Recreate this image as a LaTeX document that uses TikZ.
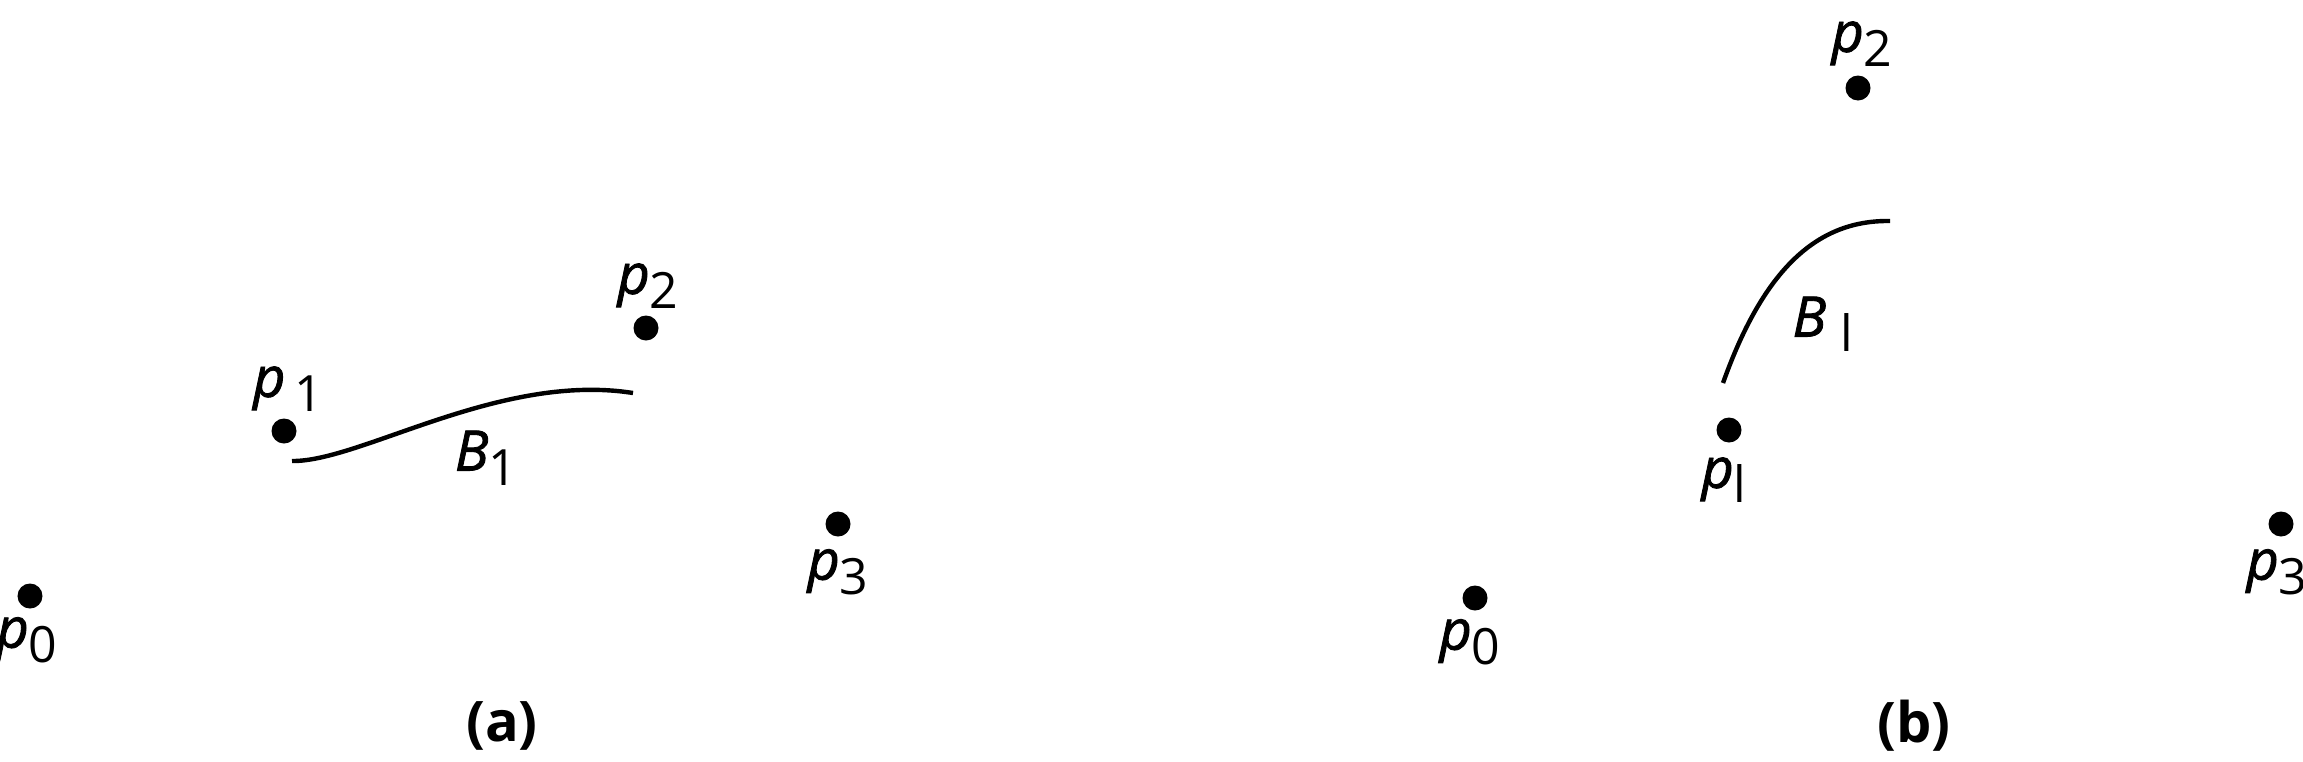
\documentclass[tikz,border=0pt]{standalone}
\usepackage{fontspec}
\setmainfont{Open Sans}
\newfontfamily\labfont[ItalicFeatures={FakeBold=1.5}]{Open Sans}
\newcommand{\lbl}[3][0pt]{{\itshape #2}\hspace{#1}\raisebox{-5pt}{\fontsize{17}{17}\selectfont #3}}
\tikzset{
  dot/.style={circle, fill=black, inner sep=0pt, minimum size=8.5pt},
  lab/.style={inner sep=0pt, font=\labfont\fontsize{19}{22}\selectfont},
  captext/.style={inner sep=0pt, font=\fontsize{19}{22}\selectfont\bfseries},
  bcurve/.style={line width=1.5pt, line cap=butt}
}
\begin{document}
\begin{tikzpicture}[x=0.34pt, y=-0.34pt]
\useasboundingbox (0,0) rectangle (2303,762);
% panel (a)
\node[dot] (a0) at (30,596) {};
\node[dot] (a1) at (284,431) {};
\node[dot] (a2) at (646,328) {};
\node[dot] (a3) at (838,524) {};
\node[lab] (la0) at (27,640) {\lbl{p}{0}};
\node[lab] (la1) at (288,389) {\lbl[3pt]{p}{1}};
\node[lab] (la2) at (648,286) {\lbl{p}{2}};
\node[lab] (la3) at (838,572) {\lbl{p}{3}};
\node[lab] (lB1) at (486,458) {\lbl{B}{1}};
\coordinate (as) at (292,461);
\coordinate (ae) at (633,393);
\draw[bcurve] (as) .. controls (360,462) and (500,372) .. (ae);
\node[captext] (capa) at (502,726) {(a)};
% panel (b)
\node[dot] (b0) at (1475,598) {};
\node[dot] (b1) at (1729,430) {};
\node[dot] (b2) at (1858,88) {};
\node[dot] (b3) at (2281,524) {};
\node[lab] (lb0) at (1470,642) {\lbl{p}{0}};
\node[lab] (lb1) at (1724,480) {\lbl{p}{l}};
\node[lab] (lb2) at (1862,44) {\lbl{p}{2}};
\node[lab] (lb3) at (2277,572) {\lbl{p}{3}};
\node[lab] (lBl) at (1823,324) {\lbl[5pt]{B}{l}};
\coordinate (bs) at (1723,383);
\coordinate (be) at (1890,221);
\draw[bcurve] (bs) .. controls (1765,265) and (1820,220) .. (be);
\node[captext] (capb) at (1914,726) {(b)};
\end{tikzpicture}
\end{document}
